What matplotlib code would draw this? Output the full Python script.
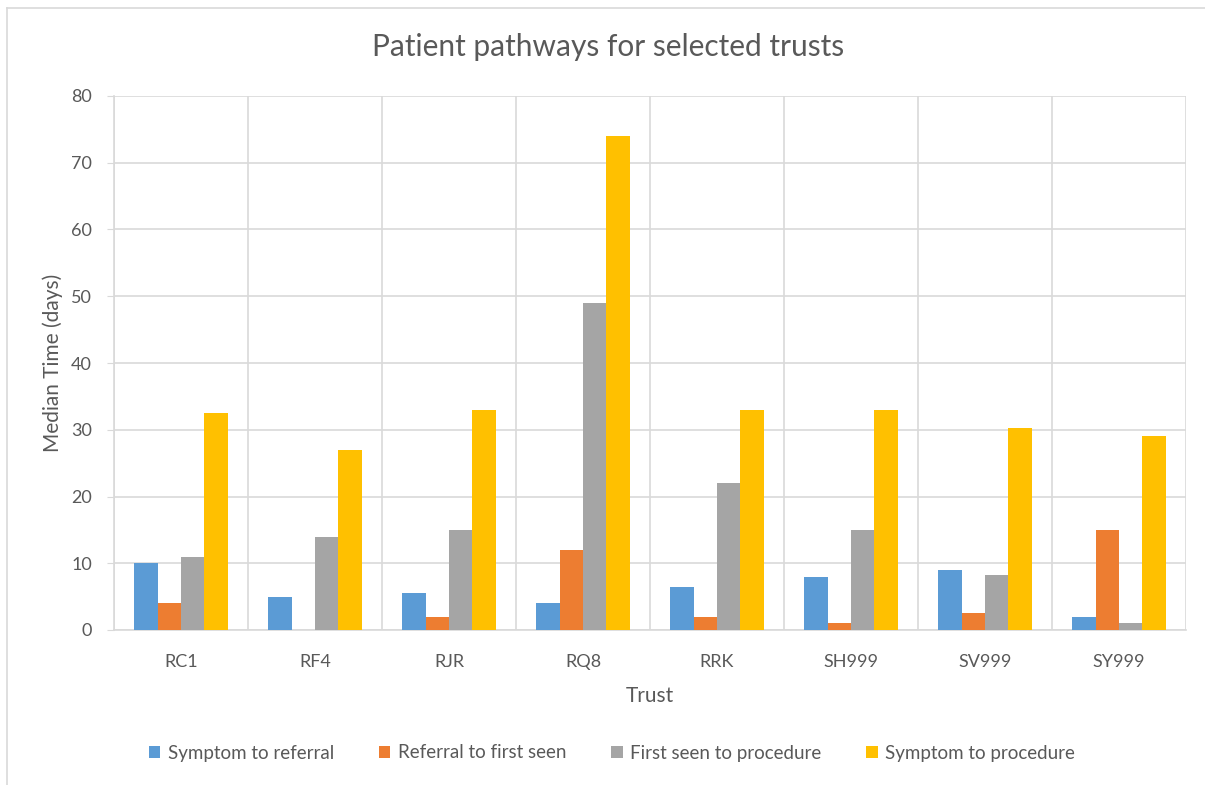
import numpy as np
import matplotlib.pyplot as plt
from matplotlib.lines import Line2D

trusts = ["RC1", "RF4", "RJR", "RQ8", "RRK", "SH999", "SV999", "SY999"]
symptom_to_referral = [10, 5, 5.5, 4, 6.5, 8, 9, 2]
referral_to_first_seen = [4, 0, 2, 12, 2, 1, 2.5, 15]
first_seen_to_procedure = [11, 14, 15, 49, 22, 15, 8.3, 1]
symptom_to_procedure = [32.5, 27, 33, 74, 33, 33, 30.3, 29]

series_names = ["Symptom to referral", "Referral to first seen",
                "First seen to procedure", "Symptom to procedure"]
colors = ["#5B9BD5", "#ED7D31", "#A5A5A5", "#FFC000"]
text_col = "#595959"

plt.rcParams['font.family'] = ['Lato', 'DejaVu Sans']

fig = plt.figure(figsize=(12.05, 7.85), dpi=100)
ax = fig.add_axes([114/1205, 155/785, 1072/1205, 534/785])

# light chart border (top and left only visible)
fig.add_artist(Line2D([7/1205, 7/1205], [0, 1 - 8/785], transform=fig.transFigure,
                      color="#D9D9D9", lw=1.2))
fig.add_artist(Line2D([7/1205, 1], [1 - 8/785, 1 - 8/785], transform=fig.transFigure,
                      color="#D9D9D9", lw=1.2))

x = np.arange(len(trusts))
w = 0.175
all_series = [symptom_to_referral, referral_to_first_seen,
              first_seen_to_procedure, symptom_to_procedure]
for i, (vals, c, name) in enumerate(zip(all_series, colors, series_names)):
    ax.bar(x + (i - 1.5) * w, vals, width=w, color=c, label=name, zorder=3)

ax.set_xlim(-0.5, len(trusts) - 0.5)
ax.set_ylim(0, 80)
ax.set_yticks(range(0, 81, 10))
ax.set_xticks(x)
ax.set_xticklabels(trusts)

# vertical gridlines between categories
ax.set_xticks(np.arange(-0.5, len(trusts)), minor=True)
ax.grid(axis="x", which="minor", color="#D9D9D9", lw=1.2, zorder=0)
ax.grid(axis="y", which="major", color="#D9D9D9", lw=1.2, zorder=0)

for s in ["top", "right"]:
    ax.spines[s].set_visible(False)
ax.spines["left"].set_color("#D9D9D9")
ax.spines["bottom"].set_color("#D9D9D9")
ax.spines["left"].set_linewidth(1.2)
ax.spines["bottom"].set_linewidth(1.2)

ax.tick_params(axis="x", which="both", length=0, labelsize=13, labelcolor=text_col, pad=17)
ax.tick_params(axis="y", length=5, color="#D9D9D9", labelsize=13, labelcolor=text_col, pad=11)

ax.set_xlabel("Trust", fontsize=15, color=text_col, labelpad=12)
ax.set_ylabel("Median Time (days)", fontsize=15, color=text_col, labelpad=6)

fig.text(0.505, 1 - 47/785, "Patient pathways for selected trusts",
         ha="center", va="center", fontsize=21.5, color=text_col)

leg = fig.legend(loc="center", bbox_to_anchor=(0.508, 1 - 753/785), ncol=4,
                 frameon=False, fontsize=13.5, handlelength=0.6, handleheight=0.6,
                 handletextpad=0.4, columnspacing=2.4)
for t in leg.get_texts():
    t.set_color(text_col)

fig.savefig("out.png", dpi=100, facecolor="white")
